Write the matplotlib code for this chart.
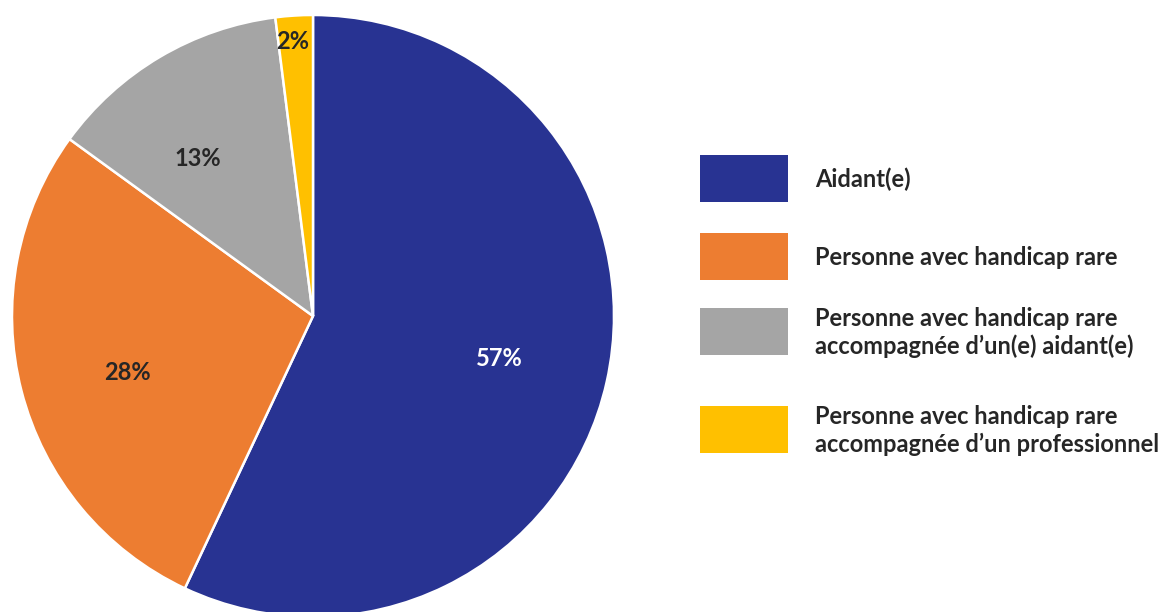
import matplotlib
matplotlib.use("Agg")
import matplotlib.pyplot as plt
from matplotlib.patches import Rectangle
import numpy as np

# Répartition des répondants
categories = [
    "Aidant(e)",
    "Personne avec handicap rare",
    "Personne avec handicap rare\naccompagnée d\u2019un(e) aidant(e)",
    "Personne avec handicap rare\naccompagnée d\u2019un professionnel",
]
values = [57, 28, 13, 2]
colors = ["#283392", "#ED7D31", "#A5A5A5", "#FFC000"]
label_colors = ["white", "#262626", "#262626", "#262626"]
# radial distance and angular nudge (degrees) of each percentage label
label_dist = [0.635, 0.646, 0.647, 0.915]
label_nudge = [-0.1, 2.6, 5.6, 0.6]

plt.rcParams["font.family"] = ["Lato", "DejaVu Sans"]

W, H = 1171, 612
fig = plt.figure(figsize=(W / 100, H / 100), dpi=100)
fig.patch.set_facecolor("white")

cx, cy, r = 313, 296, 301
ax = fig.add_axes([(cx - r) / W, (cy - r) / H, 2 * r / W, 2 * r / H])
wedges, _ = ax.pie(values, colors=colors, startangle=90, counterclock=False,
                   radius=1, wedgeprops=dict(edgecolor="white", linewidth=1.8))
ax.set_xlim(-1, 1)
ax.set_ylim(-1, 1)
ax.set_aspect("equal")
ax.axis("off")

for w, v, d, n, c in zip(wedges, values, label_dist, label_nudge, label_colors):
    mid = np.deg2rad((w.theta1 + w.theta2) / 2 + n)
    ax.text(d * np.cos(mid), d * np.sin(mid), f"{v}%", ha="center", va="center",
            fontsize=17, fontweight="bold", color=c)

# Légende
lax = fig.add_axes([0, 0, 1, 1])
lax.set_xlim(0, W)
lax.set_ylim(H, 0)
lax.axis("off")
box_tops = [155, 233, 308, 406]
box_h = 47
for top, col, lab in zip(box_tops, colors, categories):
    lax.add_patch(Rectangle((700, top), 88, box_h, facecolor=col, edgecolor="none"))
    lax.text(815, top + box_h / 2 + 1, lab, ha="left", va="center", fontsize=17,
             fontweight="bold", color="#262626", linespacing=1.25)

fig.savefig("out.png", dpi=100, facecolor="white")
